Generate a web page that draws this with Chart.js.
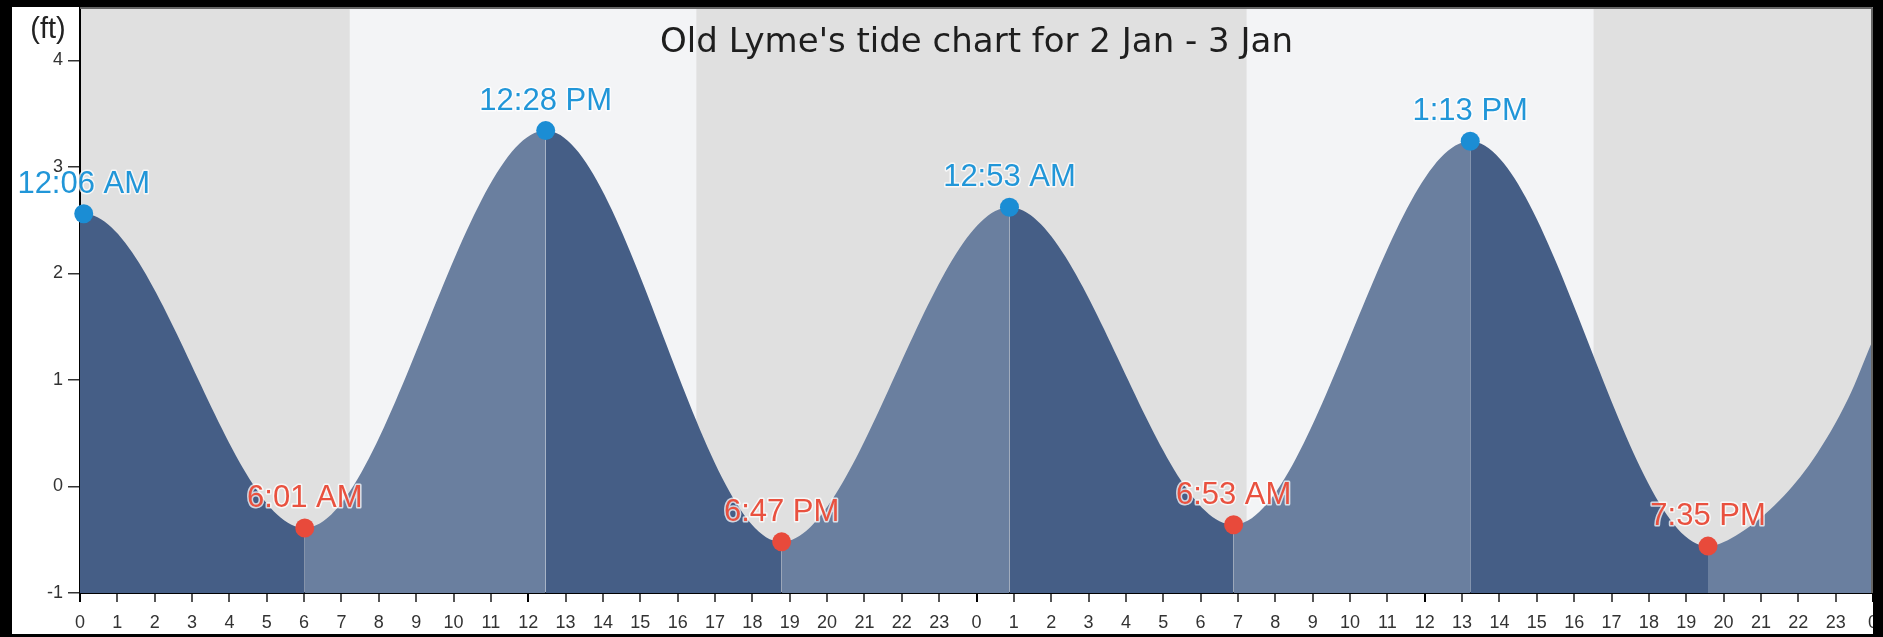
<!DOCTYPE html>
<html>
<head>
<meta charset="utf-8">
<script src="https://cdn.jsdelivr.net/npm/chart.js@4"></script>
<style>
  html, body { margin: 0; background: #000; }
  #wrap { position: absolute; left: 12px; top: 7px; width: 1861px; height: 627px; background: #fff; overflow: hidden; }
</style>
</head>
<body>
<div id="wrap"><canvas id="tideChart" width="1861" height="627"></canvas></div>
<script>
// hours since midnight 2 Jan, water level in ft
const highTimes = [0.1, 12.467, 24.883, 37.217];
const highLevels = [2.56, 3.34, 2.62, 3.24];
const highLabels = ['12:06 AM', '12:28 PM', '12:53 AM', '1:13 PM'];

const lowTimes = [6.017, 18.783, 30.883, 43.583];
const lowLevels = [-0.39, -0.52, -0.36, -0.56];
const lowLabels = ['6:01 AM', '6:47 PM', '6:53 AM', '7:35 PM'];

// readings at the chart edges and on the last rising stretch
const edgeTimes = [0, 44.43, 45.5, 46.39, 47.33, 48];
const edgeLevels = [2.56, -0.44, -0.13, 0.25, 0.82, 1.38];

// sunrise / sunset, hours
const sunrise = [7.22, 31.23];
const sunset = [16.5, 40.52];

const DARK = '#455e86';
const LIGHT = '#6a7f9f';
const NIGHT = '#e0e0e0';
const DAY = '#f3f4f6';
const SANS = '"Liberation Sans", Arial, sans-serif';

const toPoints = (xs, ys) => xs.map((x, i) => ({ x: x, y: ys[i] }));
const curve = toPoints(highTimes, highLevels)
  .concat(toPoints(lowTimes, lowLevels), toPoints(edgeTimes, edgeLevels))
  .sort((a, b) => a.x - b.x);

const dayNight = {
  id: 'dayNight',
  beforeDraw(chart) {
    const { ctx, chartArea: a, scales: { x } } = chart;
    ctx.save();
    ctx.fillStyle = NIGHT;
    ctx.fillRect(a.left, a.top, a.right - a.left, a.bottom - a.top);
    ctx.fillStyle = DAY;
    sunrise.forEach((r, i) => {
      const x0 = x.getPixelForValue(r), x1 = x.getPixelForValue(sunset[i]);
      ctx.fillRect(x0, a.top, x1 - x0, a.bottom - a.top);
    });
    ctx.restore();
  }
};

const extremeLabels = {
  id: 'extremeLabels',
  afterDraw(chart) {
    const { ctx, chartArea: a } = chart;
    ctx.save();
    ctx.font = '31px ' + SANS;
    ctx.textAlign = 'center';
    ctx.textBaseline = 'alphabetic';
    ctx.lineJoin = 'round';
    [[0, highLabels, '#2196d8'], [1, lowLabels, '#e9513f']].forEach(([idx, texts, col]) => {
      chart.getDatasetMeta(idx).data.forEach((pt, i) => {
        ctx.lineWidth = 3;
        ctx.strokeStyle = 'rgba(255,255,255,0.75)';
        ctx.strokeText(texts[i], pt.x, pt.y - 21);
        ctx.fillStyle = col;
        ctx.fillText(texts[i], pt.x, pt.y - 21);
      });
    });

    // title and unit
    ctx.fillStyle = '#1e1e1e';
    ctx.font = '34px "DejaVu Sans", sans-serif';
    ctx.fillText("Old Lyme's tide chart for 2 Jan - 3 Jan", (a.left + a.right) / 2, 45);
    ctx.font = '29px ' + SANS;
    ctx.fillStyle = '#222';
    ctx.fillText('(ft)', 36, 31);

    // frame on top and right
    ctx.strokeStyle = '#666';
    ctx.lineWidth = 2;
    ctx.beginPath();
    ctx.moveTo(a.left, a.top + 1);
    ctx.lineTo(a.right - 1, a.top + 1);
    ctx.lineTo(a.right - 1, a.bottom);
    ctx.stroke();
    ctx.restore();
  }
};

new Chart(document.getElementById('tideChart'), {
  data: {
    datasets: [
      {
        type: 'scatter',
        data: toPoints(highTimes, highLevels),
        pointRadius: 9.5,
        pointHoverRadius: 9.5,
        pointBackgroundColor: '#1b8dd4',
        pointBorderWidth: 0,
        clip: false
      },
      {
        type: 'scatter',
        data: toPoints(lowTimes, lowLevels),
        pointRadius: 9.5,
        pointHoverRadius: 9.5,
        pointBackgroundColor: '#e84a3b',
        pointBorderWidth: 0,
        clip: false
      },
      {
        type: 'line',
        data: curve,
        fill: 'start',
        backgroundColor: DARK,
        borderColor: 'transparent',
        borderWidth: 0,
        pointRadius: 0,
        cubicInterpolationMode: 'monotone',
        segment: {
          backgroundColor: c => c.p1.parsed.y > c.p0.parsed.y ? LIGHT : DARK
        }
      }
    ]
  },
  options: {
    responsive: false,
    animation: false,
    events: [],
    layout: { padding: 0, autoPadding: false },
    plugins: {
      legend: { display: false },
      tooltip: { enabled: false },
      title: { display: false }
    },
    scales: {
      x: {
        type: 'linear',
        min: 0,
        max: 48,
        ticks: {
          stepSize: 1,
          maxTicksLimit: 100,
          autoSkip: false,
          maxRotation: 0,
          padding: 10,
          color: '#333',
          font: { family: SANS, size: 18 },
          callback: v => v % 24
        },
        grid: {
          drawOnChartArea: false,
          tickLength: 9,
          lineWidth: 2,
          color: c => (c.tick && c.tick.value % 12 === 0) ? '#000' : '#555'
        },
        border: { color: '#000', width: 2 },
        afterFit: s => { s.height = 41; s.paddingLeft = 0; s.paddingRight = 0; }
      },
      y: {
        type: 'linear',
        min: -1,
        max: 4.5,
        ticks: {
          stepSize: 1,
          includeBounds: false,
          padding: 5,
          color: '#333',
          font: { family: SANS, size: 18 }
        },
        grid: {
          drawOnChartArea: false,
          tickLength: 12,
          lineWidth: 1.5,
          color: '#333'
        },
        border: { color: '#000', width: 2 },
        afterFit: s => { s.width = 68; s.paddingTop = 0; s.paddingBottom = 0; }
      }
    }
  },
  plugins: [dayNight, extremeLabels]
});
</script>
</body>
</html>
